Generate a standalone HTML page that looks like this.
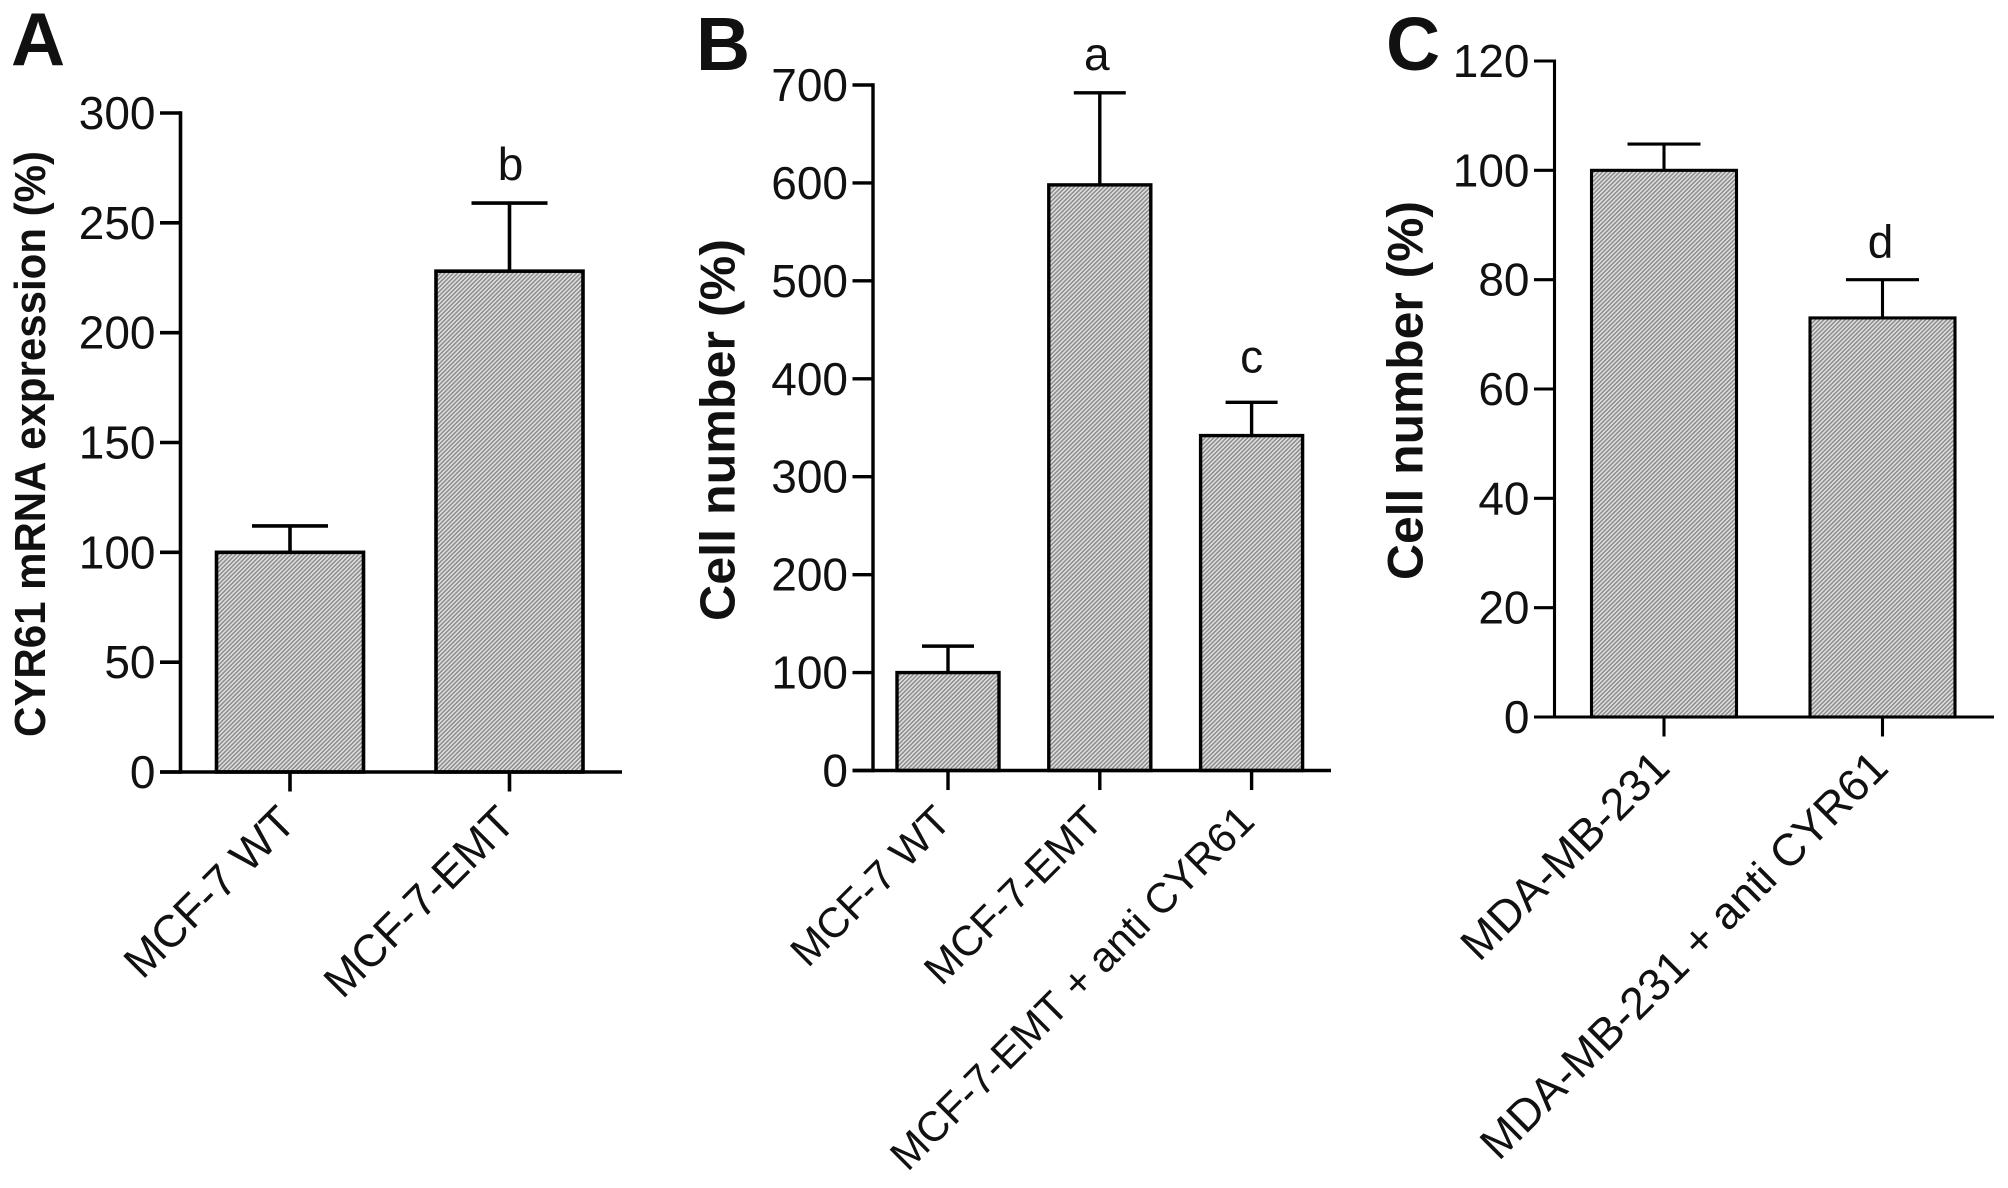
<!DOCTYPE html>
<html lang="en">
<head>
<meta charset="utf-8">
<title>CYR61 expression and cell number</title>
<style>
html,body{margin:0;padding:0;background:#fff;width:2008px;height:1188px;overflow:hidden}
svg{display:block}
text{font-family:"Liberation Sans",sans-serif;fill:#111;font-kerning:none}
</style>
</head>
<body>
<svg id="fig" xmlns="http://www.w3.org/2000/svg" width="2008" height="1188" viewBox="0 0 2008 1188">
<defs>
<pattern id="hatch" width="3" height="3" patternUnits="userSpaceOnUse" patternTransform="rotate(45)">
<rect width="3" height="3" fill="#e0e0e0"></rect>
<rect width="1.5" height="3" fill="#8c8c8c"></rect>
</pattern>
</defs>
</svg>
<script>
// Panel A data
const panelACategories = ['MCF-7 WT', 'MCF-7-EMT'];
const panelAValues = [100, 228];
const panelAErrorTops = [112, 259];
const panelASignificance = ['', 'b'];
const panelATicks = [0, 50, 100, 150, 200, 250, 300];
// Panel B data
const panelBCategories = ['MCF-7 WT', 'MCF-7-EMT', 'MCF-7-EMT + anti CYR61'];
const panelBValues = [100, 598, 342];
const panelBErrorTops = [127, 692, 376];
const panelBSignificance = ['', 'a', 'c'];
const panelBTicks = [0, 100, 200, 300, 400, 500, 600, 700];
// Panel C data
const panelCCategories = ['MDA-MB-231', 'MDA-MB-231 + anti CYR61'];
const panelCValues = [100, 73];
const panelCErrorTops = [104.8, 80];
const panelCSignificance = ['', 'd'];
const panelCTicks = [0, 20, 40, 60, 80, 100, 120];

const NS = 'http://www.w3.org/2000/svg';
const fig = document.getElementById('fig');
const sigOffsetX = {a: -3, b: 1, c: 0, d: -2};
const sigGap = {a: 23, b: 23, c: 30, d: 22};

function mk(parent, tag, attrs, txt) {
  const e = document.createElementNS(NS, tag);
  for (const k in attrs) e.setAttribute(k, attrs[k]);
  if (txt !== undefined) e.textContent = txt;
  parent.appendChild(e);
  return e;
}

function drawPanel(p) {
  const g = mk(fig, 'g', {});
  
  

  const max = p.ticks[p.ticks.length - 1];
  const yScale = v => p.y0 - (v / max) * (p.y0 - p.yTop);
  const xScale = i => p.firstCenter + i * p.step;
  const sw = p.sw;

  const letter = mk(g, 'text', {x: p.letterX, y: p.letterY, 'font-size': 75, 'font-weight': 'bold', fill: '#000'}, p.key);
  
  

  const title = mk(g, 'text', {transform: 'translate(' + p.titleX + ',' + p.titleY + ') rotate(-90)', 'font-size': p.titleSize, 'font-weight': 'bold', textLength: p.titleLen, lengthAdjust: 'spacingAndGlyphs'}, p.title);
  
  

  p.values.forEach((v, i) => {
    const cx = xScale(i);
    const errTop = yScale(p.errors[i]);
    const barTop = yScale(v);

    const stem = mk(g, 'line', {x1: cx, x2: cx, y1: barTop, y2: errTop, stroke: '#000', 'stroke-width': sw});
    
    

    const cap = mk(g, 'line', {x1: cx - p.capW / 2, x2: cx + p.capW / 2, y1: errTop, y2: errTop, stroke: '#000', 'stroke-width': sw});
    
    

    const bar = mk(g, 'rect', {x: cx - p.barW / 2, y: barTop, width: p.barW, height: p.y0 - barTop, fill: 'url(#hatch)', stroke: '#000', 'stroke-width': sw});
    
    

    const mark = p.sig[i];
    if (mark) {
      const s = mk(g, 'text', {x: cx + sigOffsetX[mark], y: errTop - sigGap[mark], 'font-size': 46, 'text-anchor': 'middle'}, mark);
      
      
    }

    const tick = mk(g, 'line', {x1: cx, x2: cx, y1: p.y0, y2: p.y0 + 19.5, stroke: '#000', 'stroke-width': sw});
    
    

    const lx = cx + p.labelDx;
    const ly = p.y0 + 53;
    const lab = mk(g, 'text', {transform: 'translate(' + lx + ',' + ly + ') rotate(-45)', 'font-size': p.labelSize, 'text-anchor': 'end'}, p.cats[i]);
    
    
  });

  const yAxis = mk(g, 'line', {x1: p.axisX, x2: p.axisX, y1: p.yTop - sw / 2, y2: p.y0 + sw / 2, stroke: '#000', 'stroke-width': sw});
  
  

  const xAxis = mk(g, 'line', {x1: p.axisX - 20.5, x2: p.xEnd, y1: p.y0, y2: p.y0, stroke: '#000', 'stroke-width': sw});
  
  

  p.ticks.forEach(t => {
    const y = yScale(t);
    const tk = mk(g, 'line', {x1: p.axisX - 20.5, x2: p.axisX, y1: y, y2: y, stroke: '#000', 'stroke-width': sw});
    
    

    const tl = mk(g, 'text', {x: p.axisX - 25, y: y + 16, 'font-size': 46, 'text-anchor': 'end'}, String(t));
    
    
  });
}

drawPanel({key: 'A', title: 'CYR61 mRNA expression (%)', cats: panelACategories, values: panelAValues, errors: panelAErrorTops, sig: panelASignificance, ticks: panelATicks,
  axisX: 180.5, xEnd: 622, yTop: 113, y0: 772, firstCenter: 290, step: 219.5, barW: 147, capW: 76, sw: 3.6, labelSize: 45, labelDx: 8,
  letterX: 11, letterY: 65, titleX: 45, titleY: 737, titleSize: 44, titleLen: 586});
drawPanel({key: 'B', title: 'Cell number (%)', cats: panelBCategories, values: panelBValues, errors: panelBErrorTops, sig: panelBSignificance, ticks: panelBTicks,
  axisX: 873, xEnd: 1331, yTop: 85, y0: 770.5, firstCenter: 948, step: 151.8, barW: 102, capW: 52, sw: 3.4, labelSize: 42, labelDx: 5,
  letterX: 696, letterY: 70, titleX: 734.5, titleY: 621, titleSize: 49.5, titleLen: 382});
drawPanel({key: 'C', title: 'Cell number (%)', cats: panelCCategories, values: panelCValues, errors: panelCErrorTops, sig: panelCSignificance, ticks: panelCTicks,
  axisX: 1554.5, xEnd: 1994, yTop: 61, y0: 717, firstCenter: 1664, step: 218.5, barW: 145, capW: 73, sw: 3.1, labelSize: 45, labelDx: 8,
  letterX: 1386, letterY: 70, titleX: 1422.5, titleY: 580, titleSize: 50, titleLen: 379});
</script>
</body>
</html>
